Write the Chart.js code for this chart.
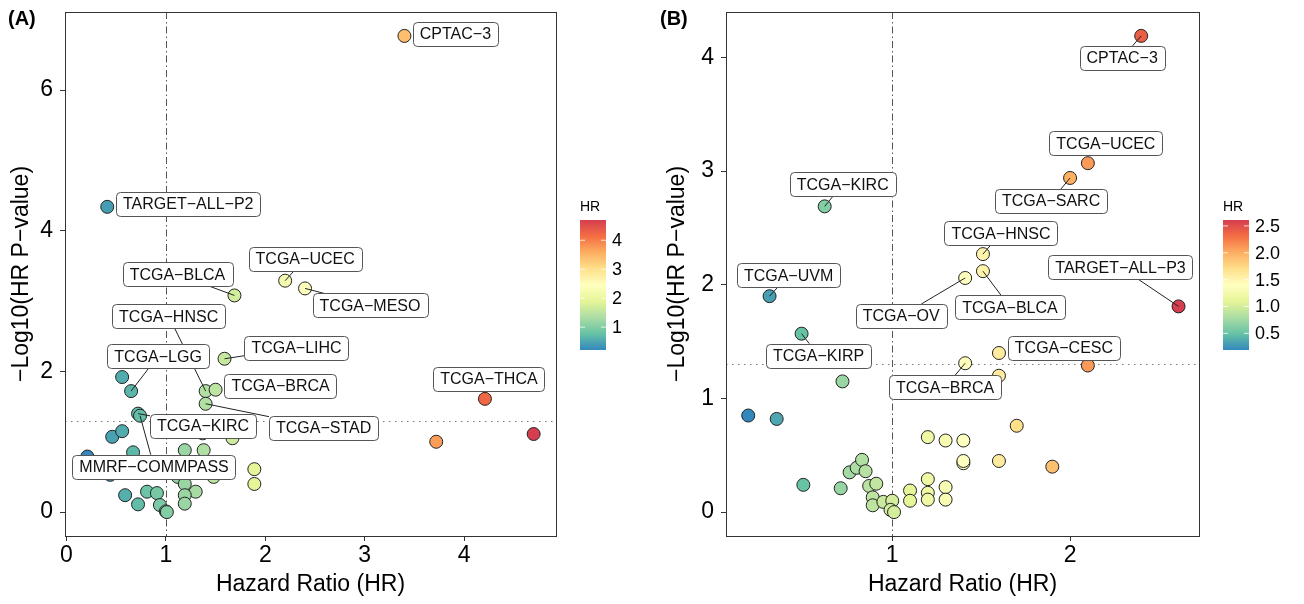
<!DOCTYPE html>
<html>
<head>
<meta charset="utf-8">
<script src="https://cdn.jsdelivr.net/npm/chart.js@4.4.1/dist/chart.umd.min.js"></script>
<style>
  body { margin: 0; background: #fff; width: 1304px; height: 604px; overflow: hidden; position: relative; }
  canvas { position: absolute; top: 0; }
  #panelA { left: 0; }
  #panelB { left: 652px; }
</style>
</head>
<body>
<canvas id="panelA" width="652" height="604"></canvas>
<canvas id="panelB" width="652" height="604"></canvas>
<script>
// ---- panel A data (HR vs -log10 p) ----
const hrA   = [0.56, 0.46, 0.56, 0.21, 0.44, 0.67, 1.19, 1.38, 1.37, 1.67, 1.12, 1.19, 1.30, 1.19, 1.19, 1.48, 1.89, 1.89, 0.59, 0.72, 0.81, 0.91, 0.94, 1.00, 1.01, 3.72, 4.70];
const logpA = [1.92, 1.07, 1.15, 0.79, 0.53, 0.85, 0.88, 0.88, 1.12, 1.05, 0.50, 0.40, 0.29, 0.24, 0.12, 0.50, 0.61, 0.40, 0.24, 0.11, 0.29, 0.27, 0.10, 0.01, 0.00, 1.00, 1.11];
const namesA     = ['CPTAC-3', 'TARGET-ALL-P2', 'TCGA-UCEC', 'TCGA-BLCA', 'TCGA-MESO', 'TCGA-HNSC', 'TCGA-LIHC', 'TCGA-LGG', 'TCGA-BRCA', 'TCGA-THCA', 'TCGA-KIRC', 'TCGA-STAD', 'MMRF-COMMPASS'];
const namedHrA   = [3.40, 0.41, 2.20, 1.69, 2.40, 1.40, 1.59, 0.65, 1.50, 4.21, 0.72, 1.40, 0.74];
const namedLogpA = [6.77, 4.34, 3.29, 3.08, 3.18, 1.72, 2.18, 1.72, 1.74, 1.61, 1.40, 1.54, 1.37];
const xTicksA = [0, 1, 2, 3, 4];
const yTicksA = [0, 2, 4, 6];
const cbTicksA = [1, 2, 3, 4];

// ---- panel B data ----
const hrB   = [0.19, 0.35, 0.50, 0.71, 0.72, 0.76, 0.80, 0.83, 0.85, 0.87, 0.91, 0.89, 0.89, 0.95, 1.00, 0.99, 1.01, 1.10, 1.10, 1.20, 1.20, 1.20, 1.30, 1.30, 1.20, 1.30, 1.40, 1.40, 1.40, 1.60, 1.70, 1.90, 1.60, 2.10];
const logpB = [0.85, 0.82, 0.24, 0.21, 1.15, 0.35, 0.39, 0.46, 0.36, 0.23, 0.25, 0.13, 0.06, 0.09, 0.10, 0.02, 0.00, 0.19, 0.10, 0.29, 0.17, 0.11, 0.22, 0.11, 0.66, 0.63, 0.63, 0.43, 0.45, 0.45, 0.76, 0.40, 1.20, 1.29];
const namesB     = ['CPTAC-3', 'TCGA-UCEC', 'TCGA-KIRC', 'TCGA-SARC', 'TCGA-HNSC', 'TARGET-ALL-P3', 'TCGA-UVM', 'TCGA-BLCA', 'TCGA-OV', 'TCGA-KIRP', 'TCGA-CESC', 'TCGA-BRCA'];
const namedHrB   = [2.40, 2.10, 0.62, 2.00, 1.51, 2.61, 0.31, 1.51, 1.41, 0.49, 1.60, 1.41];
const namedLogpB = [4.19, 3.07, 2.69, 2.94, 2.27, 1.81, 1.90, 2.12, 2.06, 1.57, 1.40, 1.31];
const xTicksB = [1, 2];
const yTicksB = [0, 1, 2, 3, 4];
const cbTicksB = [0.5, 1.0, 1.5, 2.0, 2.5];

// label placement (pixel offset of box centre from its point), like ggrepel output
const nudgeA = {
  'CPTAC-3': [51, -2], 'TARGET-ALL-P2': [81, -3], 'TCGA-UCEC': [20, -22], 'TCGA-BLCA': [-57, -21],
  'TCGA-MESO': [65, 17], 'TCGA-HNSC': [-37, -75], 'TCGA-LIHC': [72, -11], 'TCGA-LGG': [27, -35],
  'TCGA-BRCA': [65, -4], 'TCGA-THCA': [4, -20], 'TCGA-KIRC': [65, 12], 'TCGA-STAD': [118, 24],
  'MMRF-COMMPASS': [14, 51]
};
const nudgeB = {
  'CPTAC-3': [-19, 22], 'TCGA-UCEC': [18, -20], 'TCGA-KIRC': [18, -22], 'TCGA-SARC': [-19, 23],
  'TCGA-HNSC': [18, -21], 'TARGET-ALL-P3': [-58, -39], 'TCGA-UVM': [19, -21], 'TCGA-BLCA': [27, 36],
  'TCGA-OV': [-64, 38], 'TCGA-KIRP': [17, 22], 'TCGA-CESC': [65, -5], 'TCGA-BRCA': [-20, 24]
};

const FONT = "'Liberation Sans', Arial, Helvetica, sans-serif";
const spectral = ['#3288BD', '#66C2A5', '#ABDDA4', '#E6F598', '#FFFFBF', '#FEE08B', '#FDAE61', '#F46D43', '#D53E4F'];

function hex2rgb(h) {
  return [parseInt(h.slice(1, 3), 16), parseInt(h.slice(3, 5), 16), parseInt(h.slice(5, 7), 16)];
}
function hrColor(v, lo, hi) {
  let t = Math.min(1, Math.max(0, (v - lo) / (hi - lo))) * (spectral.length - 1);
  let i = Math.min(Math.floor(t), spectral.length - 2);
  let f = t - i;
  let a = hex2rgb(spectral[i]), b = hex2rgb(spectral[i + 1]);
  let c = a.map((x, k) => Math.round(x + (b[k] - x) * f));
  return 'rgb(' + c.join(',') + ')';
}
const dash = s => s.replace(/-/g, '\u2212');

const panelDecor = {
  id: 'panelDecor',
  beforeDatasetsDraw(chart, args, o) {
    const { ctx, chartArea: a, scales: { x, y } } = chart;
    ctx.save();
    ctx.strokeStyle = '#555';
    ctx.lineWidth = 1;
    ctx.setLineDash([7, 3, 1.5, 3]);
    let vx = Math.round(x.getPixelForValue(1)) + 0.5;
    ctx.beginPath(); ctx.moveTo(vx, a.top); ctx.lineTo(vx, a.bottom); ctx.stroke();
    ctx.strokeStyle = '#777';
    ctx.setLineDash([1.5, 4.5]);
    let hy = Math.round(y.getPixelForValue(-Math.log10(0.05))) + 0.5;
    ctx.beginPath(); ctx.moveTo(a.left, hy); ctx.lineTo(a.right, hy); ctx.stroke();
    ctx.restore();
  },
  afterDatasetsDraw(chart, args, o) {
    const { ctx, scales: { x, y } } = chart;
    ctx.save();
    ctx.font = '16px ' + FONT;
    const boxes = o.names.map((n, i) => {
      const px = x.getPixelForValue(o.hr[i]), py = y.getPixelForValue(o.logp[i]);
      const [dx, dy] = o.nudge[n];
      const w = ctx.measureText(dash(n)).width + 14, h = 24;
      return { n, px, py, cx: px + dx, cy: py + dy, w, h };
    });
    // leader segments (drawn above the points, below the boxes)
    ctx.strokeStyle = '#222';
    ctx.lineWidth = 1;
    boxes.forEach(b => {
      const ddx = b.cx - b.px, ddy = b.cy - b.py;
      let s = 1;
      if (ddx !== 0) s = Math.min(s, (b.w / 2) / Math.abs(ddx));
      if (ddy !== 0) s = Math.min(s, (b.h / 2) / Math.abs(ddy));
      const ex = b.cx - ddx * s, ey = b.cy - ddy * s;
      const len = Math.hypot(ex - b.px, ey - b.py);
      if (len > 11) {
        ctx.beginPath(); ctx.moveTo(b.px, b.py); ctx.lineTo(ex, ey); ctx.stroke();
      }
    });
    boxes.forEach(b => {
      ctx.beginPath();
      ctx.roundRect(Math.round(b.cx - b.w / 2) + 0.5, Math.round(b.cy - b.h / 2) + 0.5, Math.round(b.w), b.h, 4);
      ctx.fillStyle = '#fff';
      ctx.fill();
      ctx.strokeStyle = '#555';
      ctx.stroke();
      ctx.fillStyle = '#111';
      ctx.textAlign = 'center';
      ctx.textBaseline = 'middle';
      ctx.fillText(dash(b.n), b.cx, b.cy + 1);
    });
    ctx.restore();
  },
  afterDraw(chart, args, o) {
    const { ctx, chartArea: a } = chart;
    ctx.save();
    // panel frame
    ctx.strokeStyle = '#333';
    ctx.lineWidth = 1;
    ctx.strokeRect(Math.round(a.left) + 0.5, Math.round(a.top) + 0.5, Math.round(a.right - a.left), Math.round(a.bottom - a.top));
    // colour bar
    const bx = o.cbX, bw = 26, top = 220, bot = 350;
    const g = ctx.createLinearGradient(0, bot, 0, top);
    spectral.forEach((c, i) => g.addColorStop(i / (spectral.length - 1), c));
    ctx.fillStyle = g;
    ctx.fillRect(bx, top, bw, bot - top);
    ctx.font = '18px ' + FONT;
    ctx.textBaseline = 'middle';
    ctx.textAlign = 'left';
    o.cbTicks.forEach(v => {
      const ty = bot - (v - o.lo) / (o.hi - o.lo) * (bot - top);
      ctx.strokeStyle = 'rgba(255,255,255,0.8)';
      ctx.beginPath();
      ctx.moveTo(bx, ty); ctx.lineTo(bx + 5, ty);
      ctx.moveTo(bx + bw - 5, ty); ctx.lineTo(bx + bw, ty);
      ctx.stroke();
      ctx.fillStyle = '#000';
      ctx.fillText(o.cbFmt(v), bx + bw + 6, ty + 1);
    });
    ctx.font = '14px ' + FONT;
    ctx.fillText('HR', bx, 207);
    // panel tag
    ctx.font = 'bold 20px ' + FONT;
    ctx.fillText(o.tag, o.tagX, 19);
    ctx.restore();
  }
};

function makePanel(id, cfg) {
  const all = cfg.hr.concat(cfg.namedHr);
  const lo = Math.min(...all), hi = Math.max(...all);
  const pts = cfg.hr.map((v, i) => ({ x: v, y: cfg.logp[i] }))
    .concat(cfg.namedHr.map((v, i) => ({ x: v, y: cfg.namedLogp[i] })));
  const tickFont = { family: FONT, size: 23 };
  return new Chart(document.getElementById(id), {
    type: 'scatter',
    data: {
      datasets: [{
        data: pts,
        pointRadius: 6.5,
        pointHoverRadius: 6.5,
        borderWidth: 1,
        borderColor: '#222',
        backgroundColor: c => hrColor(c.raw.x, lo, hi)
      }]
    },
    options: {
      responsive: false,
      animation: false,
      events: [],
      layout: { padding: { left: cfg.padLeft, right: cfg.padRight, top: 12, bottom: 0 } },
      plugins: {
        legend: { display: false },
        tooltip: { enabled: false },
        panelDecor: {
          names: cfg.names, hr: cfg.namedHr, logp: cfg.namedLogp, nudge: cfg.nudge,
          cbTicks: cfg.cbTicks, cbFmt: cfg.cbFmt, cbX: cfg.cbX, lo, hi, tag: cfg.tag, tagX: cfg.tagX
        }
      },
      scales: {
        x: {
          type: 'linear', min: cfg.xMin, max: cfg.xMax,
          afterBuildTicks: s => { s.ticks = cfg.xTicks.map(v => ({ value: v })); },
          afterFit: s => { s.height = 68; s.paddingLeft = 0; s.paddingRight = 0; },
          ticks: { color: '#000', font: tickFont, padding: 1, maxRotation: 0 },
          grid: { drawOnChartArea: false, tickLength: 5, color: '#333' },
          border: { color: '#333' },
          title: { display: true, text: 'Hazard Ratio (HR)', color: '#000', font: tickFont, padding: { top: 0, bottom: 6 } }
        },
        y: {
          type: 'linear', min: cfg.yMin, max: cfg.yMax,
          afterBuildTicks: s => { s.ticks = cfg.yTicks.map(v => ({ value: v })); },
          afterFit: s => { s.width = 65; s.paddingTop = 0; s.paddingBottom = 0; },
          ticks: { color: '#000', font: tickFont, padding: 7 },
          grid: { drawOnChartArea: false, tickLength: 5, color: '#333' },
          border: { color: '#333' },
          title: { display: true, text: '\u2212Log10(HR P\u2212value)', color: '#000', font: tickFont, padding: { top: cfg.titlePad, bottom: 0 } }
        }
      }
    },
    plugins: [panelDecor]
  });
}

makePanel('panelA', {
  hr: hrA, logp: logpA, names: namesA, namedHr: namedHrA, namedLogp: namedLogpA, nudge: nudgeA,
  xMin: -0.015, xMax: 4.925, yMin: -0.34, yMax: 7.11, xTicks: xTicksA, yTicks: yTicksA,
  cbTicks: cbTicksA, cbFmt: v => String(v), cbX: 580,
  padLeft: 0, padRight: 96, titlePad: 8, tag: '(A)', tagX: 8
});
makePanel('panelB', {
  hr: hrB, logp: logpB, names: namesB, namedHr: namedHrB, namedLogp: namedLogpB, nudge: nudgeB,
  xMin: 0.065, xMax: 2.725, yMin: -0.21, yMax: 4.40, xTicks: xTicksB, yTicks: yTicksB,
  cbTicks: cbTicksB, cbFmt: v => v.toFixed(1), cbX: 571,
  padLeft: 9, padRight: 105, titlePad: 3, tag: '(B)', tagX: 8
});
</script>
</body>
</html>
